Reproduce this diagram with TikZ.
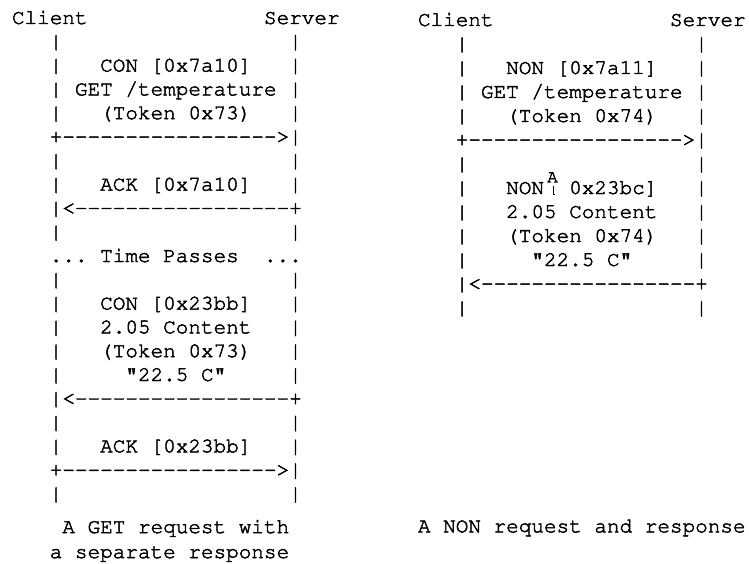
\documentclass[tikz,border=0pt]{standalone}
\usepackage[T1]{fontenc}
\usepackage{courier}
\frenchspacing
\tikzset{
  ascii/.style={anchor=base west, inner sep=0pt, outer sep=0pt,
    font=\ttfamily\fontsize{21}{24}\selectfont\special{pdf:literal 2 Tr 0.45 w}},
}
\newcommand\dashrun[1]{\foreach\k in {1,...,#1}{-{}}}
\begin{document}
\begin{tikzpicture}[x=1pt,y=-1pt]
    \useasboundingbox (0,0) rectangle (749,564);
    % separate response
    \begin{scope}[shift={(12,24)},x=12.6pt,y=-23.8pt]
        \node[ascii] (lcli) at (0,0) {Client};
        \node[ascii] (lsrv) at (20,0) {Server};
        \foreach \r in {1,2,3,4,6,7,9,11,12,13,14,15,17,18,20} {
            \node[ascii] (lcl\r) at (3,\r) {|};
            \node[ascii] (lsv\r) at (22,\r) {|};
        }
        \node[ascii] (lcon) at (7,2) {CON [0x7a10]};
        \node[ascii] (lget) at (5,3) {GET /temperature};
        \node[ascii] (ltok) at (7,4) {(Token 0x73)};
        \node[ascii] (lreq) at (3,5) {+\dashrun{17}>|};
        \node[ascii] (lack) at (7,7) {ACK [0x7a10]};
        \node[ascii] (lackarr) at (3,8) {|<\dashrun{17}+};
        \node[ascii] (ldotsa) at (3,10) {...};
        \node[ascii] (ltime) at (7,10) {Time Passes};
        \node[ascii] (ldotsb) at (20,10) {...};
        \node[ascii] (lcon2) at (7,12) {CON [0x23bb]};
        \node[ascii] (lcode) at (7,13) {2.05 Content};
        \node[ascii] (ltok2) at (7,14) {(Token 0x73)};
        \node[ascii] (lval) at (9,15) {"22.5 C"};
        \node[ascii] (lresp) at (3,16) {|<\dashrun{17}+};
        \node[ascii] (lack2) at (7,18) {ACK [0x23bb]};
        \node[ascii] (lack2arr) at (3,19) {+\dashrun{17}>|};
        \node[ascii] (lcapa) at (4,21.39) {A GET request with};
        \node[ascii] (lcapb) at (3,22.44) {a separate response};
    \end{scope}
    % non-confirmable
    \begin{scope}[shift={(418,26)},x=12.6pt,y=-24pt]
        \node[ascii] (rcli) at (0,0) {Client};
        \node[ascii] (rsrv) at (20,0) {Server};
        \foreach \r in {1,2,3,4,6,7,8,9,10,12} {
            \node[ascii] (rcl\r) at (3,\r) {|};
            \node[ascii] (rsv\r) at (22,\r) {|};
        }
        \node[ascii] (rnon) at (7,2) {NON [0x7a11]};
        \node[ascii] (rget) at (5,3) {GET /temperature};
        \node[ascii] (rtok) at (7,4) {(Token 0x74)};
        \node[ascii] (rreq) at (3,5) {+\dashrun{17}>|};
        \node[ascii] (rnon2) at (7,7) {NON};
        \node[anchor=base, inner sep=0pt,
            font=\ttfamily\fontsize{18}{18}\selectfont\special{pdf:literal 2 Tr 0.4 w}]
            (rglitch) at (10.68,6.52) {A};
        \draw[line width=0.9pt] (10.72,6.68) -- (10.72,7.0) -- (10.86,7.0);
        \node[ascii] (rmid) at (12,7) {0x23bc]};
        \node[ascii] (rcode) at (7,8) {2.05 Content};
        \node[ascii] (rtok2) at (7,9) {(Token 0x74)};
        \node[ascii] (rval) at (9,10) {"22.5 C"};
        \node[ascii] (rresp) at (3,11) {|<\dashrun{17}+};
        \node[ascii] (rcap) at (0,21.1) {A NON request and response};
    \end{scope}
\end{tikzpicture}
\end{document}
